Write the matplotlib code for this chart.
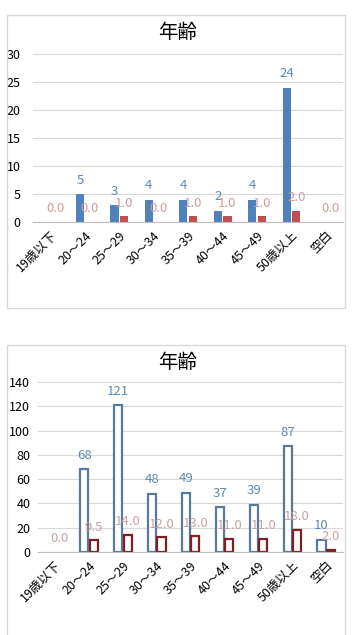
import numpy as np
import matplotlib.pyplot as plt
from matplotlib.patches import Rectangle

plt.rcParams['font.family'] = ['Noto Sans CJK JP', 'DejaVu Sans']

categories = ['19歳以下', '20～24', '25～29', '30～34', '35～39',
              '40～44', '45～49', '50歳以上', '空白']

# 上のグラフ
top_blue = [0, 5, 3, 4, 4, 2, 4, 24, 0]
top_red = [0.0, 0.0, 1.0, 0.0, 1.0, 1.0, 1.0, 2.0, 0.0]
top_yticks = [0, 5, 10, 15, 20, 25, 30]

# 下のグラフ
bot_blue = [0, 68, 121, 48, 49, 37, 39, 87, 10]
bot_red = [0.0, 9.5, 14.0, 12.0, 13.0, 11.0, 11.0, 18.0, 2.0]
bot_yticks = [0, 20, 40, 60, 80, 100, 120, 140]


def draw(ax, blue, red, yticks, hollow, ypad):
    x = np.arange(len(categories))
    w = 0.24
    if hollow:
        be = ['#5B7A98' if v > 0 else 'none' for v in blue]
        re = ['#7F1F22' if v > 0 else 'none' for v in red]
        ax.bar(x - 0.135, blue, w, facecolor='white', edgecolor=be, linewidth=1.6, zorder=3)
        ax.bar(x + 0.145, red, w, facecolor='white', edgecolor=re, linewidth=1.6, zorder=3)
        bcol, rcol = '#5D89B0', '#C9A3A3'
    else:
        ax.bar(x - 0.135, blue, w, color='#4F81BD', zorder=3)
        ax.bar(x + 0.145, red, w, color='#C0504D', zorder=3)
        bcol, rcol = '#5B8BBA', '#D09C9A'
    for i in range(len(categories)):
        if blue[i] > 0:
            ax.annotate(str(blue[i]), (x[i] - 0.135, blue[i]), xytext=(0, 10),
                        textcoords='offset points', ha='center', va='center',
                        fontsize=9.5, color=bcol, zorder=4)
        ax.annotate('%.1f' % red[i], (x[i] + 0.145, red[i]), xytext=(0, 9.5),
                    textcoords='offset points', ha='center', va='center',
                    fontsize=9.5, color=rcol, zorder=4)
    ax.set_xlim(-0.5, len(categories) - 0.5)
    ax.set_ylim(0, yticks[-1])
    ax.set_yticks(yticks)
    ax.set_xticks(x)
    ax.set_xticklabels(categories, rotation=45, ha='right', rotation_mode='anchor')
    ax.tick_params(length=0, labelsize=9, colors='black')
    ax.tick_params(axis='x', pad=5)
    ax.tick_params(axis='y', pad=ypad)
    ax.grid(axis='y', color='#D9D9D9', linewidth=0.8, zorder=0)
    for s in ['top', 'right', 'left']:
        ax.spines[s].set_visible(False)
    ax.spines['bottom'].set_color('#BFBFBF')
    ax.spines['bottom'].set_zorder(3.5)


def main():
    fig = plt.figure(figsize=(3.55, 6.35), dpi=100)

    # 枠
    fig.patches.append(Rectangle((7 / 355, 1 - 308 / 635), 338 / 355, 293 / 635,
                                 transform=fig.transFigure, fill=False,
                                 edgecolor='#D9D9D9', linewidth=1))
    fig.patches.append(Rectangle((7 / 355, -0.01), 338 / 355, 1 - 345 / 635 + 0.01,
                                 transform=fig.transFigure, fill=False,
                                 edgecolor='#D9D9D9', linewidth=1))

    ax1 = fig.add_axes([33 / 355, 1 - 222 / 635, 310 / 355, 168 / 635])
    draw(ax1, top_blue, top_red, top_yticks, False, 9)
    fig.text(178 / 355, 1 - 33 / 635, '年齢', ha='center', va='center', fontsize=14)

    ax2 = fig.add_axes([38 / 355, 1 - 552 / 635, 305 / 355, 170 / 635])
    draw(ax2, bot_blue, bot_red, bot_yticks, True, 5.5)
    fig.text(178 / 355, 1 - 363 / 635, '年齢', ha='center', va='center', fontsize=14)

    fig.savefig('out.png', dpi=100)


if __name__ == '__main__':
    main()
